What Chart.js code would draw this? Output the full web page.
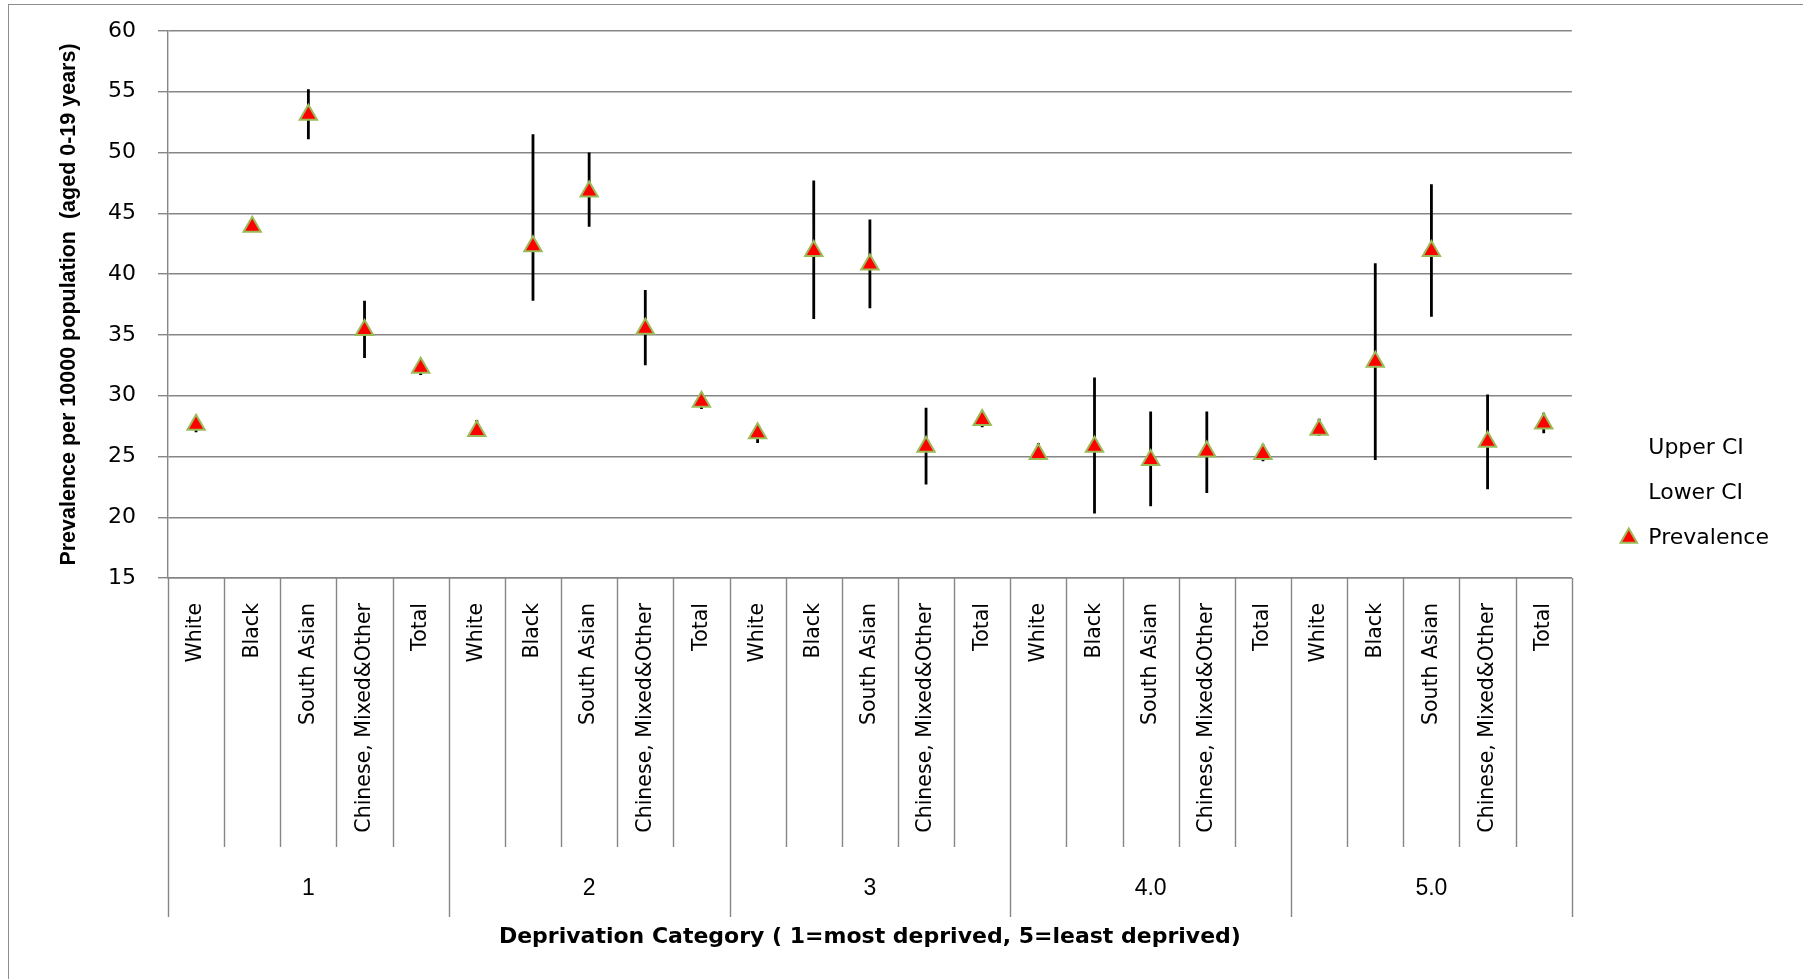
<!DOCTYPE html>
<html>
<head>
<meta charset="utf-8">
<script src="https://cdn.jsdelivr.net/npm/chart.js@4.4.1/dist/chart.umd.min.js"></script>
<style>
  html, body { margin: 0; padding: 0; background: #fff; }
  #wrap { width: 1803px; height: 979px; }
</style>
</head>
<body>
<div id="wrap"><canvas id="prevChart"></canvas></div>
<script>
// Ethnic group for each point, grouped by deprivation category
const categories = [
  "White", "Black", "South Asian", "Chinese, Mixed&Other", "Total",
  "White", "Black", "South Asian", "Chinese, Mixed&Other", "Total",
  "White", "Black", "South Asian", "Chinese, Mixed&Other", "Total",
  "White", "Black", "South Asian", "Chinese, Mixed&Other", "Total",
  "White", "Black", "South Asian", "Chinese, Mixed&Other", "Total",
];
const deprivationGroups = ["1", "2", "3", "4.0", "5.0"];
const groupSize = 5;

const prevalence = [
  27.6, 43.9, 53.1, 35.4, 32.3,
  27.1, 42.3, 46.8, 35.5, 29.5,
  26.9, 41.9, 40.8, 25.8, 28.0,
  25.2, 25.8, 24.7, 25.4, 25.2,
  27.2, 32.8, 41.9, 26.2, 27.7,
];
const upperCI = [
  28.3, 44.1, 55.2, 37.8, 32.9,
  28.0, 51.5, 50.0, 38.7, 30.3,
  27.6, 47.7, 44.5, 29.0, 28.7,
  26.1, 31.5, 28.7, 28.7, 26.0,
  28.1, 40.9, 47.4, 30.1, 28.6,
];
const lowerCI = [
  27.0, 43.6, 51.1, 33.1, 31.7,
  26.6, 37.8, 43.9, 32.5, 28.9,
  26.1, 36.3, 37.2, 22.7, 27.4,
  24.8, 20.3, 20.9, 22.0, 24.6,
  26.7, 24.7, 36.5, 22.3, 26.9,
];
const yTicks = { min: 15, max: 60, step: 5 };

const gridColor = "#868686";

// black vertical bars from lower to upper CI, under the triangles
const errorBarPlugin = {
  id: "errorBars",
  beforeDatasetsDraw(chart) {
    const ctx = chart.ctx;
    const upper = chart.getDatasetMeta(0).data;
    const lower = chart.getDatasetMeta(1).data;
    ctx.save();
    ctx.strokeStyle = "#000";
    ctx.lineWidth = 2.8;
    ctx.beginPath();
    upper.forEach((pt, i) => {
      ctx.moveTo(pt.x, pt.y);
      ctx.lineTo(lower[i].x, lower[i].y);
    });
    ctx.stroke();
    ctx.restore();
  },
};

// Excel-like outer frame and the multi-level category dividers
const framePlugin = {
  id: "frame",
  beforeDraw(chart) {
    const ctx = chart.ctx;
    ctx.save();
    ctx.strokeStyle = "#8c8c8c";
    ctx.lineWidth = 1;
    ctx.strokeRect(8.5, 4.5, 3000, 3000);
    ctx.restore();
  },
  afterDraw(chart) {
    const ctx = chart.ctx;
    const x = chart.scales.x;
    const xg = chart.scales.xGroup;
    const step = (x.right - x.left) / categories.length;
    ctx.save();
    ctx.strokeStyle = gridColor;
    ctx.lineWidth = 1.4;
    ctx.beginPath();
    for (let k = 0; k <= categories.length; k++) {
      const px = Math.round(x.left + k * step) + 0.5;
      const bottom = k % groupSize === 0 ? xg.top + 70 : x.bottom;
      ctx.moveTo(px, x.top);
      ctx.lineTo(px, bottom);
    }
    ctx.stroke();
    ctx.restore();
  },
};

Chart.defaults.font.family = "DejaVu Sans";
Chart.defaults.color = "#000";

new Chart(document.getElementById("prevChart"), {
  type: "line",
  data: {
    labels: categories,
    datasets: [
      {
        label: "Upper CI",
        data: upperCI,
        showLine: false,
        pointRadius: 0,
        borderColor: "rgba(0,0,0,0)",
        backgroundColor: "rgba(0,0,0,0)",
      },
      {
        label: "Lower CI",
        data: lowerCI,
        showLine: false,
        pointRadius: 0,
        borderColor: "rgba(0,0,0,0)",
        backgroundColor: "rgba(0,0,0,0)",
      },
      {
        label: "Prevalence",
        data: prevalence,
        showLine: false,
        pointStyle: "triangle",
        pointRadius: 10,
        pointBorderWidth: 2,
        borderColor: "#9BBB59",
        backgroundColor: "#FF0000",
      },
    ],
  },
  options: {
    responsive: true,
    maintainAspectRatio: false,
    animation: false,
    layout: {
      padding: { top: 31, left: 8, right: 24, bottom: 24 },
    },
    plugins: {
      legend: {
        position: "right",
        align: "center",
        labels: {
          usePointStyle: true,
          boxWidth: 17,
          boxHeight: 13.5,
          padding: 23,
          color: "#000",
          font: { family: "DejaVu Sans", size: 22 },
        },
      },
      tooltip: { enabled: false },
    },
    scales: {
      x: {
        weight: 0,
        offset: true,
        grid: { display: false, drawTicks: false },
        border: { display: true, color: gridColor, width: 1.4 },
        ticks: {
          autoSkip: false,
          minRotation: 90,
          maxRotation: 90,
          padding: 25,
          color: "#000",
          font: { family: "DejaVu Sans", size: 20.5 },
        },
        afterFit(scale) {
          scale.height = 269;
        },
      },
      xGroup: {
        type: "category",
        position: "bottom",
        weight: 1,
        labels: deprivationGroups,
        offset: true,
        grid: { display: false, drawTicks: false },
        border: { display: false },
        ticks: {
          autoSkip: false,
          maxRotation: 0,
          padding: 28,
          color: "#000",
          font: { family: "Liberation Sans", size: 23 },
        },
        title: {
          display: true,
          text: "Deprivation Category ( 1=most deprived, 5=least deprived)",
          color: "#000",
          font: { family: "DejaVu Sans", weight: "bold", size: 22 },
          padding: { top: 0, bottom: 5 },
        },
        afterFit(scale) {
          scale.height = 108;
        },
      },
      y: {
        min: yTicks.min,
        max: yTicks.max,
        grid: { color: gridColor, lineWidth: 1.4, tickLength: 10 },
        border: { display: true, color: gridColor, width: 1.4 },
        ticks: {
          stepSize: yTicks.step,
          padding: 22,
          color: "#000",
          font: { family: "DejaVu Sans", size: 22 },
        },
        title: {
          display: true,
          text: "Prevalence per 10000 population  (aged 0-19 years)",
          color: "#000",
          font: { family: "Liberation Sans", weight: "bold", size: 21.5 },
          padding: { top: 48, bottom: 0 },
        },
        afterFit(scale) {
          scale.width = 160;
          scale.paddingTop = 0;
          scale.paddingBottom = 0;
        },
      },
      spacer: {
        type: "linear",
        position: "right",
        display: true,
        grid: { display: false, drawTicks: false },
        border: { display: false },
        ticks: { display: false },
        afterFit(scale) {
          scale.width = 25.5;
          scale.paddingTop = 0;
          scale.paddingBottom = 0;
        },
      },
    },
  },
  plugins: [errorBarPlugin, framePlugin],
});
</script>
</body>
</html>
